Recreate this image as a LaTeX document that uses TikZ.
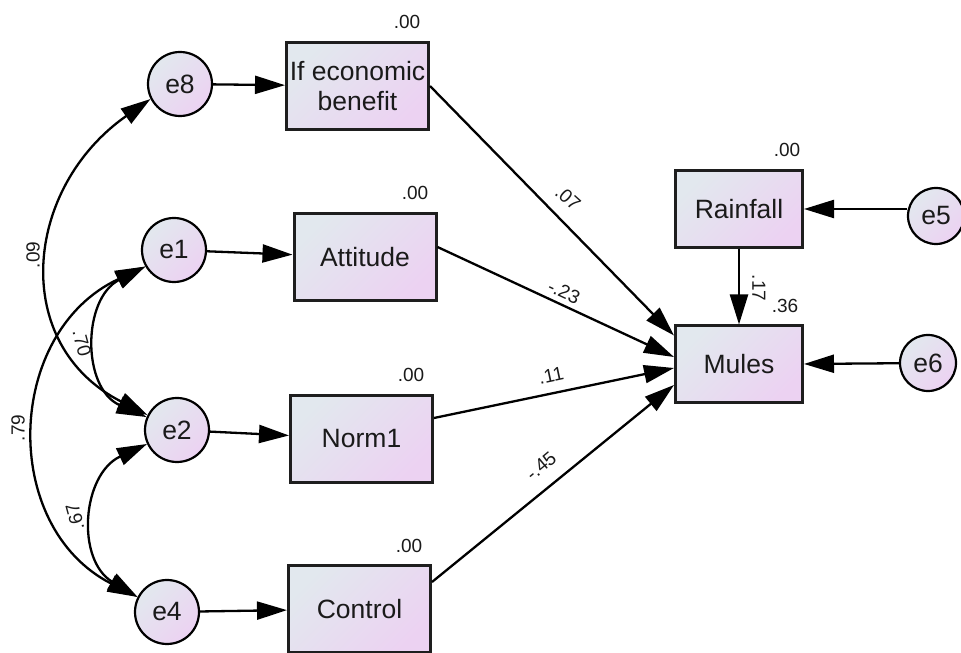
\documentclass[tikz,border=0pt]{standalone}
\usepackage{fontspec}
\setmainfont{Liberation Sans}
\usetikzlibrary{arrows.meta}
\definecolor{gradA}{HTML}{E2E8EE}
\definecolor{gradB}{HTML}{ECD2F2}
\definecolor{edge}{HTML}{1E1E1E}
\definecolor{ink}{HTML}{1A1A1A}

\begin{document}
\begin{tikzpicture}[x=1pt,y=1pt,
  shadefill/.style={top color=gradA, bottom color=gradB, shading angle=45},
  obsbox/.style={draw=edge, line width=3pt, shadefill, minimum width=142pt,
    minimum height=87pt, inner sep=0pt, text=ink, align=center,
    font=\fontsize{26.5}{30}\selectfont},
  smallbox/.style={obsbox, minimum width=127pt, minimum height=77pt},
  errc/.style={circle, draw=black, line width=2.2pt, shadefill, minimum size=64pt,
    inner sep=0pt, text=ink, font=\fontsize{26.5}{30}\selectfont},
  smallerr/.style={errc, minimum size=56pt},
  arr/.style={line width=2.3pt, -{Triangle[length=30pt,width=18pt]}},
  biarr/.style={line width=2.3pt, {Triangle[length=30pt,width=18pt]}-{Triangle[length=30pt,width=18pt]}},
  coef/.style={font=\fontsize{19}{22}\selectfont, inner sep=0pt, text=ink}]

\useasboundingbox (0,0) rectangle (961,653);
\clip (0,0) rectangle (961,653);

% observed variables
\node[obsbox] (ieb)  at (357.5,567)   {If economic\\benefit};
\node[obsbox] (att)  at (365,395.5)   {Attitude};
\node[obsbox] (norm) at (361.5,214)   {Norm1};
\node[obsbox] (ctrl) at (359.5,44)    {Control};
\node[smallbox] (rain)  at (739,444)  {Rainfall};
\node[smallbox] (mules) at (739,288.5){Mules};

% error terms
\node[errc] (e8) at (180,569) {e8};
\node[errc] (e1) at (174,403) {e1};
\node[errc] (e2) at (177,223) {e2};
\node[errc] (e4) at (167,41)  {e4};
\node[smallerr] (e5) at (936,437) {e5};
\node[smallerr] (e6) at (928,290) {e6};

% error paths
\draw[arr] (e8) -- (ieb);
\draw[arr] (e1) -- (att);
\draw[arr] (e2) -- (norm);
\draw[arr] (e4) -- (ctrl);
\draw[arr] (e5.west |- rain.east) -- (rain.east);
\draw[arr] (e6) -- (mules);

% structural paths
\draw[arr] (ieb.east) -- ([yshift=29pt]mules.west);
\draw[arr] ([yshift=10.5pt]att.east) -- ([yshift=7.5pt]mules.west);
\draw[arr] ([yshift=21pt]norm.east) -- ([yshift=-3.5pt]mules.west);
\draw[arr] ([yshift=27pt]ctrl.east) -- ([yshift=-20.5pt]mules.west);
\draw[arr] (rain) -- (mules);

% covariances between error terms
\draw[biarr] (e8.207) .. controls +(215:155) and +(153:155) .. (e2.153);
\draw[biarr] (e1.210) .. controls +(207:71) and +(156:71) .. (e2.157);
\draw[biarr] (e2.205) .. controls +(205:72) and +(149:72) .. (e4.153);
\draw[biarr] (e4.153) .. controls +(153:155) and +(205:155) .. (e1.210);

% squared multiple correlations
\node[coef] (r2ieb)  at (407,631) {.00};
\node[coef] (r2att)  at (415,460) {.00};
\node[coef] (r2norm) at (411,278) {.00};
\node[coef] (r2ctrl) at (409,107) {.00};
\node[coef] (r2rain) at (787,503) {.00};
\node[coef] (r2mul)  at (785,347) {.36};

% path coefficients
\node[coef, rotate=-42] (bieb)  at (568,455) {.07};
\node[coef, rotate=-25] (batt)  at (564,361) {-.23};
\node[coef, rotate=12]  (bnorm) at (551,277) {.11};
\node[coef, rotate=40]  (bctrl) at (541,187) {-.45};
\node[coef, rotate=-90] (brain) at (759,365) {.17};

% covariance labels
\node[coef, rotate=90]  (c82) at (33,398) {.09};
\node[coef, rotate=-75] (c12) at (82,310) {.70};
\node[coef, rotate=90]  (c41) at (18,225) {.79};
\node[coef, rotate=105] (c24) at (75,136) {.67};
\end{tikzpicture}
\end{document}
